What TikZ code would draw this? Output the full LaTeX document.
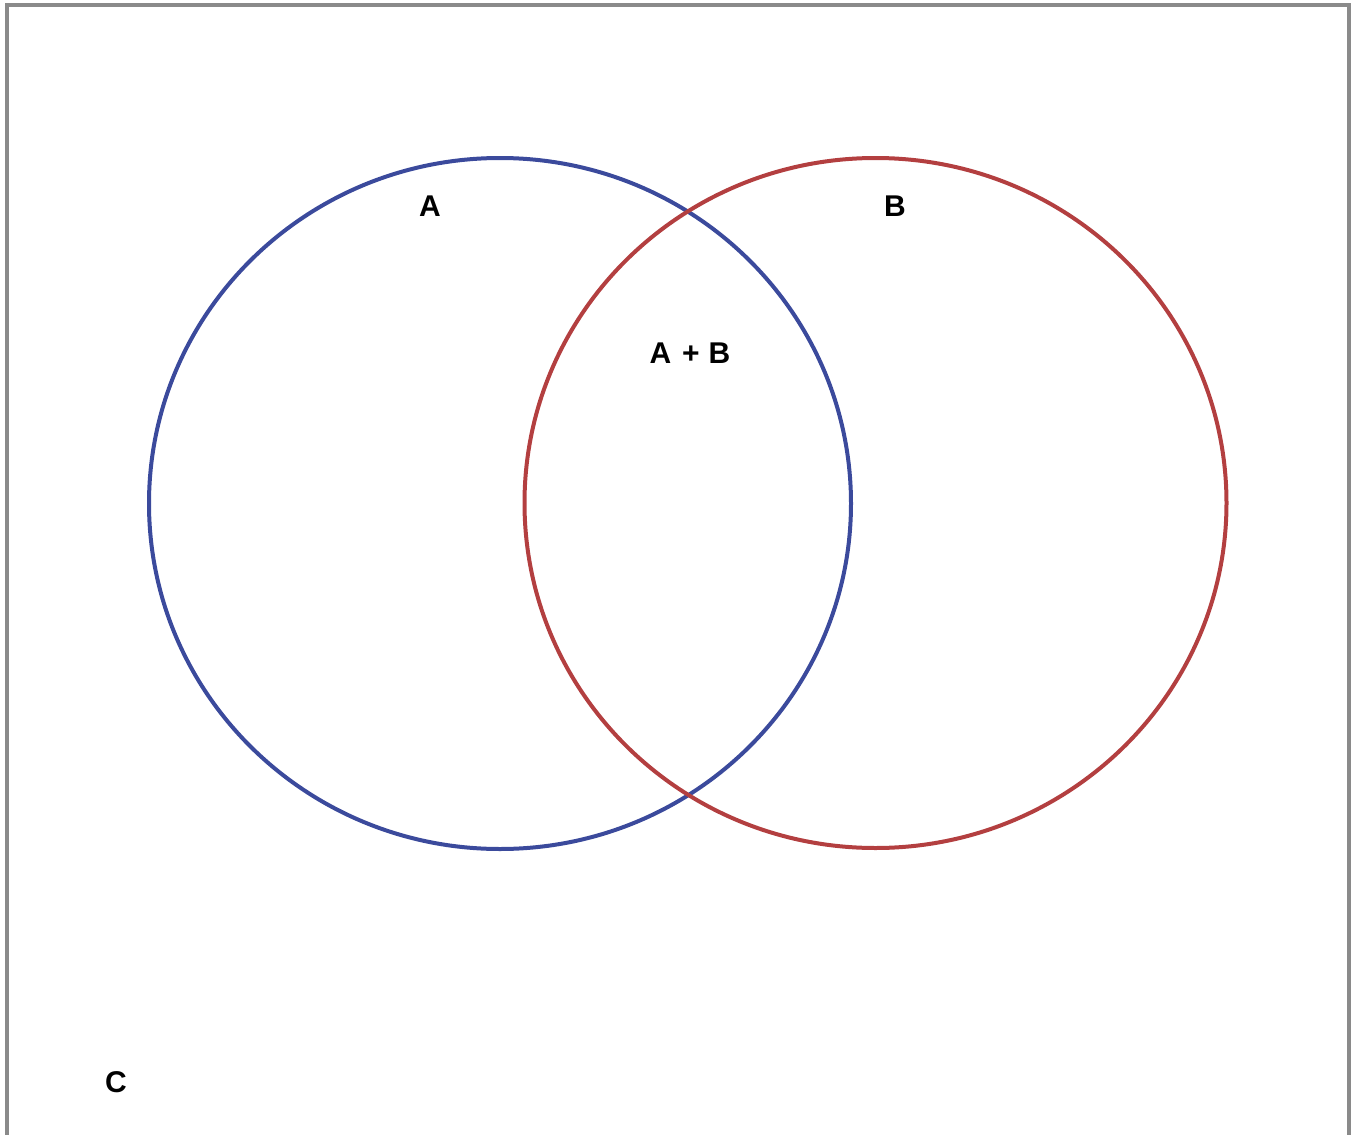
\documentclass[tikz,border=0pt]{standalone}
\usepackage{fontspec}
\setmainfont{Liberation Sans}
\definecolor{setblue}{HTML}{3B4A9C}
\definecolor{setred}{HTML}{B33F40}
\definecolor{framegray}{HTML}{8A8A8A}
\begin{document}
\begin{tikzpicture}[x=1pt,y=-1pt,
  setA/.style={draw=setblue,line width=4pt},
  setB/.style={draw=setred,line width=4pt},
  lbl/.style={font=\fontsize{30}{33}\selectfont\bfseries,text=black,inner sep=0pt}]
\useasboundingbox (0,0) rectangle (1358,1135);
\draw[framegray,line width=4pt] (7,1140) -- (7,5) -- (1349,5) -- (1349,1140);
\draw[setA] (500,503.5) ellipse[x radius=351,y radius=345.5];
\draw[setB] (875.5,503) ellipse[x radius=351,y radius=345];
\node[lbl] (la) at (430,206) {A};
\node[lbl] (lb) at (895,206) {B};
\node[lbl] (lab) at (690,353) {A\hspace{11pt}+\hspace{9pt}B};
\node[lbl] (lc) at (116,1082) {C};
\end{tikzpicture}
\end{document}
